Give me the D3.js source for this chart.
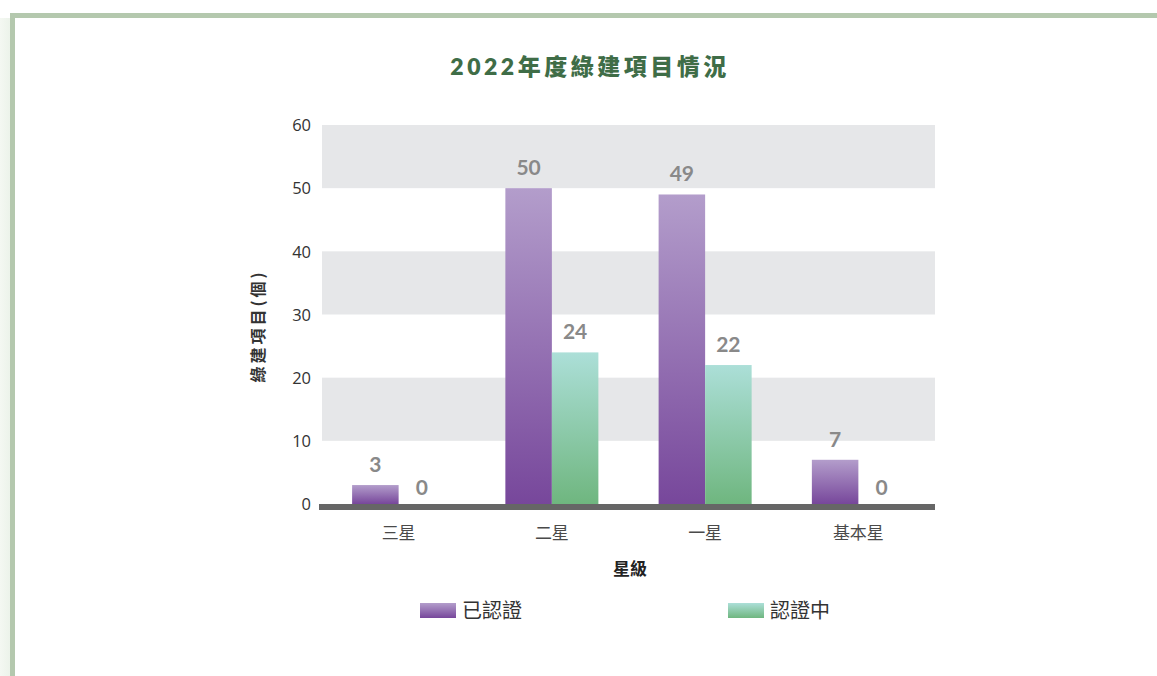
<!DOCTYPE html>
<html><head><meta charset="utf-8">
<script src="https://cdn.jsdelivr.net/npm/d3@7/dist/d3.min.js"></script>
<style>
html,body{margin:0;padding:0;background:#fff;}
svg{display:block;}
</style></head>
<body>
<svg id="c" width="1157" height="676"></svg>
<script>
const categories = ["三星", "二星", "一星", "基本星"];
const seriesNames = ["已認證", "認證中"];
const certified = [3, 50, 49, 7];
const inProgress = [0, 24, 22, 0];
const yTicks = [0, 10, 20, 30, 40, 50, 60];
const title = "2022年度綠建項目情況";
const yTitle = "綠建項目(個)";
const xTitle = "星級";

const svg = d3.select("#c");
const defs = svg.append("defs");
function grad(id, c1, c2){
  const g = defs.append("linearGradient").attr("id", id).attr("x1",0).attr("y1",0).attr("x2",0).attr("y2",1);
  g.append("stop").attr("offset","0%").attr("stop-color",c1);
  g.append("stop").attr("offset","100%").attr("stop-color",c2);
}
grad("gp", "#b39dcb", "#77479b");
grad("gg", "#acdfd8", "#6fb67f");
const lg = defs.append("linearGradient").attr("id","lb").attr("x1",0).attr("y1",0).attr("x2",1).attr("y2",0);
lg.append("stop").attr("offset","0%").attr("stop-color","#f4f8f2");
lg.append("stop").attr("offset","100%").attr("stop-color","#ecf3ea");

// frame
svg.append("rect").attr("x",0).attr("y",18).attr("width",10).attr("height",658).attr("fill","url(#lb)");
svg.append("rect").attr("x",10).attr("y",13).attr("width",1147).attr("height",5).attr("fill","#b4c8ae");
svg.append("rect").attr("x",10).attr("y",13).attr("width",5).attr("height",663).attr("fill","#b4c8ae");

const pL = 322, pR = 935, pT = 125, pB = 504;
const y = d3.scaleLinear().domain([0, 60]).range([pB, pT]);
const x = d3.scaleBand().domain(categories).range([pL, pR]).paddingInner(0.393).paddingOuter(0.1965);
const xs = d3.scaleBand().domain(seriesNames).range([0, x.bandwidth()]);

// bands
const bandPairs = [[50,60],[30,40],[10,20]];
svg.append("g").selectAll("rect").data(bandPairs).join("rect")
  .attr("x", pL).attr("width", pR-pL)
  .attr("y", d=>y(d[1])).attr("height", d=>y(d[0])-y(d[1]))
  .attr("fill", "#e6e7e9");

// y axis
const yAxis = svg.append("g").attr("transform", `translate(${pL},0)`)
  .call(d3.axisLeft(y).tickValues(yTicks).tickSize(0).tickPadding(11));
yAxis.select(".domain").remove();
yAxis.selectAll("text").style("font-family","'Open Sans', sans-serif").style("font-size","16.5px").style("fill","#333").attr("dy","0.35em");

// bars
const data = [certified, inProgress];
const fills = ["url(#gp)", "url(#gg)"];
const groups = svg.append("g").selectAll("g").data(categories).join("g")
  .attr("transform", c => `translate(${x(c)},0)`);
groups.selectAll("rect").data((c,i)=>seriesNames.map((s,j)=>({s, v:data[j][i], j}))).join("rect")
  .attr("x", d=>xs(d.s)).attr("width", xs.bandwidth())
  .attr("y", d=>y(d.v)).attr("height", d=>y(0)-y(d.v))
  .attr("fill", d=>fills[d.j]);
groups.selectAll("text").data((c,i)=>seriesNames.map((s,j)=>({s, v:data[j][i], j}))).join("text")
  .attr("x", d=>xs(d.s)+xs.bandwidth()/2)
  .attr("y", d=>y(d.v) - (d.v === 0 ? 9 : 13))
  .attr("text-anchor","middle")
  .style("font-family","Lato, sans-serif").style("font-weight",700).style("font-size","21px")
  .style("fill","#898989")
  .text(d=>d.v);

// baseline
svg.append("line").attr("x1", 319).attr("x2", pR).attr("y1", y(0)+3).attr("y2", y(0)+3)
  .attr("stroke","#666").attr("stroke-width",6);

// x axis labels
const xAxis = svg.append("g").attr("transform", `translate(0,${pB})`)
  .call(d3.axisBottom(x).tickSize(0).tickPadding(23));
xAxis.select(".domain").remove();
xAxis.selectAll("text").style("font-family","'Noto Sans CJK TC', sans-serif").style("font-size","17px").style("fill","#4a4a4a");

// titles
svg.append("text").attr("x", 590).attr("y", 75).attr("text-anchor","middle")
  .style("font-family","Lato, 'Noto Sans CJK TC', sans-serif").style("font-weight",800).style("font-size","23px")
  .style("letter-spacing","3.5px").style("fill","#3f6d47").text(title);
svg.append("text").attr("transform","translate(264,326) rotate(-90)").attr("text-anchor","middle")
  .style("font-family","'Noto Sans CJK TC', sans-serif").style("font-weight",700).style("font-size","16px")
  .style("letter-spacing","3px").style("fill","#333").text(yTitle);
svg.append("text").attr("x", 630).attr("y", 575).attr("text-anchor","middle")
  .style("font-family","'Noto Sans CJK TC', sans-serif").style("font-weight",700).style("font-size","17px")
  .style("fill","#222").text(xTitle);

// legend
const legendX = [420, 728];
const lgG = svg.append("g").selectAll("g").data(seriesNames).join("g")
  .attr("transform",(d,i)=>`translate(${legendX[i]},603)`);
lgG.append("rect").attr("width",36).attr("height",15).attr("fill",(d,i)=>fills[i]);
lgG.append("text").attr("x",42).attr("y",15).style("font-family","'Noto Sans CJK TC', sans-serif")
  .style("font-size","20px").style("fill","#333").text(d=>d);
</script>
</body></html>
